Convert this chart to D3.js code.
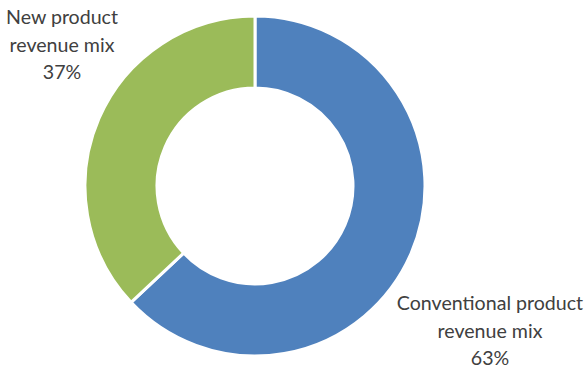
<!DOCTYPE html>
<html>
<head>
<meta charset="utf-8">
<script src="https://cdn.jsdelivr.net/npm/d3@7"></script>
<style>
  html, body { margin: 0; padding: 0; background: #fff; }
  svg { display: block; }
  text { font-family: Lato, "Open Sans", sans-serif; fill: #404040; }
</style>
</head>
<body>
<svg id="chart" width="587" height="369"></svg>
<script>
// Revenue mix by product type
const categories = ["Conventional product revenue mix", "New product revenue mix"];
const labelLines = [["Conventional product", "revenue mix"], ["New product", "revenue mix"]];
const values = [63, 37];
const colors = ["#4F81BD", "#9BBB59"];

const svg = d3.select("#chart");
const cx = 255, cy = 186, outerR = 170, innerR = 98;

const pie = d3.pie().sort(null).value(d => d)(values);
const arc = d3.arc().innerRadius(innerR).outerRadius(outerR);

const g = svg.append("g").attr("transform", `translate(${cx},${cy})`);
g.selectAll("path")
  .data(pie)
  .join("path")
  .attr("d", arc)
  .attr("fill", (d, i) => colors[i])
  .attr("stroke", "#fff")
  .attr("stroke-width", 3)
  .attr("stroke-linejoin", "round");

// Data labels placed outside the ring
const labelPos = [[490, 304], [62, 18]];
const lineH = 27.5;
labelPos.forEach((p, i) => {
  const t = svg.append("text")
    .attr("text-anchor", "middle")
    .attr("font-size", 19.6);
  const lines = labelLines[i].concat([values[i] + "%"]);
  lines.forEach((s, k) => {
    t.append("tspan")
      .attr("x", p[0])
      .attr("y", p[1] + k * lineH + 6)
      .text(s);
  });
});
</script>
</body>
</html>
